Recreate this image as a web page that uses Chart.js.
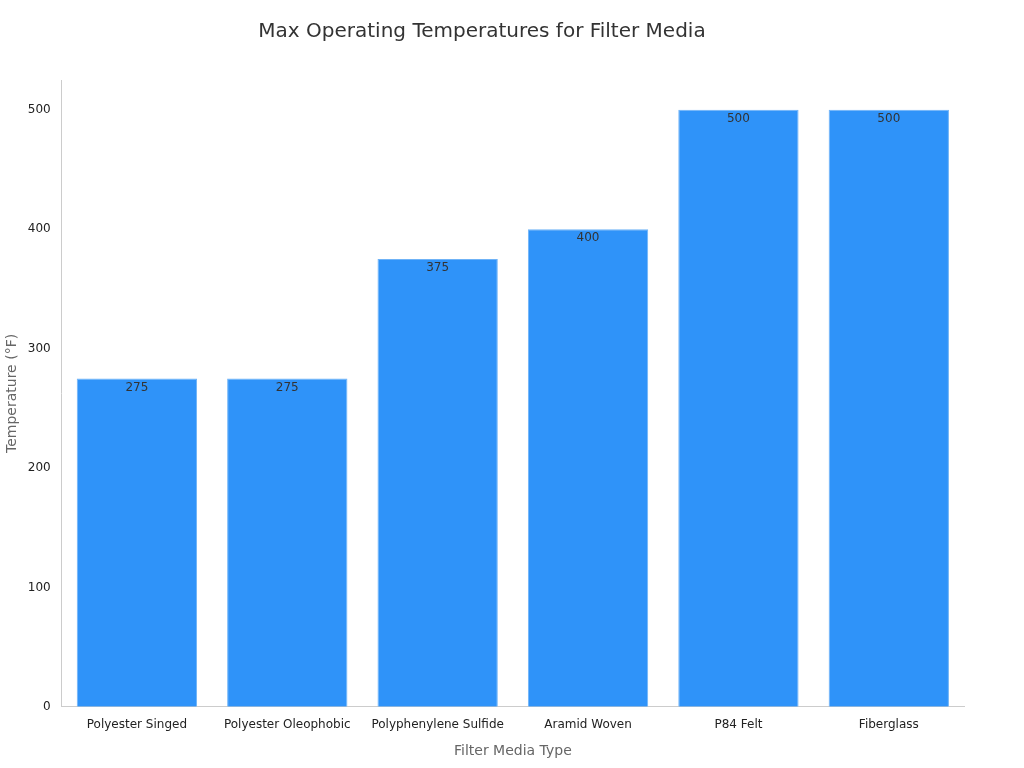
<!DOCTYPE html>
<html>
<head>
<script src="https://cdn.jsdelivr.net/npm/chart.js@4"></script>
<style>
  body { margin: 0; background: #fff; }
  #wrap { width: 1024px; height: 768px; }
</style>
</head>
<body>
<div id="wrap"><canvas id="chart"></canvas></div>
<script>
const categories = ['Polyester Singed', 'Polyester Oleophobic', 'Polyphenylene Sulfide', 'Aramid Woven', 'P84 Felt', 'Fiberglass'];
const temps = [275, 275, 375, 400, 500, 500];
const yTicks = [0, 100, 200, 300, 400, 500];

Chart.defaults.font.family = 'DejaVu Sans';

// value labels just inside the top of each bar
const barLabels = {
    id: 'barLabels',
    afterDatasetsDraw(chart) {
        const ctx = chart.ctx;
        const meta = chart.getDatasetMeta(0);
        ctx.save();
        ctx.font = '12px DejaVu Sans';
        ctx.fillStyle = '#333';
        ctx.textAlign = 'center';
        ctx.textBaseline = 'top';
        meta.data.forEach((bar, i) => {
            ctx.fillText(String(temps[i]), bar.x, bar.y + 3);
        });
        ctx.restore();
    }
};

new Chart(document.getElementById('chart'), {
    type: 'bar',
    data: {
        labels: categories,
        datasets: [{
            data: temps,
            backgroundColor: '#2f93f9',
            borderColor: '#6fb3f7',
            borderWidth: 1,
            categoryPercentage: 0.8,
            barPercentage: 1.0
        }]
    },
    options: {
        responsive: true,
        maintainAspectRatio: false,
        animation: false,
        layout: { padding: { left: 0, right: 60, top: 10, bottom: 4 } },
        plugins: {
            legend: { display: false },
            tooltip: { enabled: false },
            title: {
                display: true,
                text: 'Max Operating Temperatures for Filter Media',
                color: '#333',
                font: { size: 20, weight: 'normal' },
                padding: { top: 10, bottom: 36 }
            }
        },
        scales: {
            x: {
                grid: { display: false, drawTicks: true },
                border: { color: '#ccc' },
                ticks: { color: '#222', font: { size: 12 } },
                title: { display: true, text: 'Filter Media Type', color: '#666', font: { size: 14 }, padding: { top: 8 } }
            },
            y: {
                min: 0,
                max: 525,
                afterBuildTicks: (axis) => { axis.ticks = yTicks.map(v => ({ value: v })); },
                grid: { display: false, drawTicks: true },
                border: { color: '#ccc' },
                ticks: { color: '#222', font: { size: 12 } },
                title: { display: true, text: 'Temperature (°F)', color: '#666', font: { size: 14 } }
            }
        }
    },
    plugins: [barLabels]
});
</script>
</body>
</html>
